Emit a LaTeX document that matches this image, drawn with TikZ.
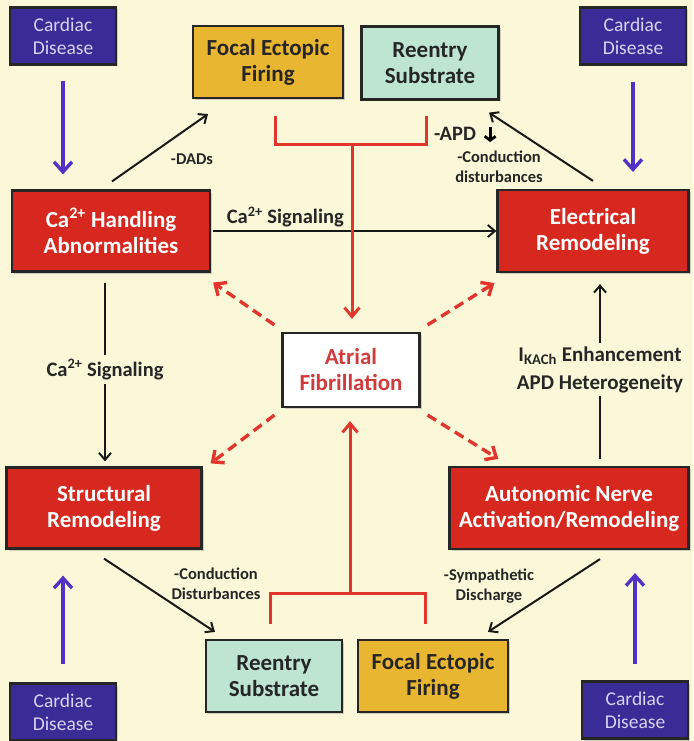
\documentclass[tikz,border=0pt]{standalone}
\usepackage{fontspec}
\setmainfont{Carlito}
\usetikzlibrary{arrows.meta, shadows}

\definecolor{bgcream}{HTML}{FBF8D9}
\definecolor{boxred}{HTML}{D7281F}
\definecolor{diseaseblue}{HTML}{3A2C96}
\definecolor{diseasetext}{HTML}{D9D2F2}
\definecolor{focalgold}{HTML}{E9B631}
\definecolor{reentrymint}{HTML}{BDE5D1}
\definecolor{afred}{HTML}{D13B3B}
\definecolor{linered}{HTML}{E2362C}
\definecolor{bluearrow}{HTML}{5232C4}

\newcommand{\boxfont}{\fontsize{23}{26}\selectfont\bfseries}
\newcommand{\labelfont}{\fontsize{16.5}{20}\selectfont\bfseries}
\newcommand{\signalfont}{\fontsize{20.5}{24}\selectfont\bfseries}

\begin{document}
\begin{tikzpicture}[x=1pt, y=-1pt,
    basebox/.style={draw=black!85, line width=2.2pt, align=center, inner sep=0pt,
      drop shadow={shadow xshift=2pt, shadow yshift=-2pt, opacity=0.35}},
    remodelbox/.style={basebox, fill=boxred, text=white, font=\boxfont},
    diseasebox/.style={basebox, fill=diseaseblue, text=diseasetext,
      font=\fontsize{19.5}{23}\selectfont, minimum width=106pt, minimum height=57pt},
    focalbox/.style={basebox, fill=focalgold, text=black!85, font=\boxfont,
      minimum width=150pt, minimum height=72pt},
    reentrybox/.style={basebox, fill=reentrymint, text=black!85, font=\boxfont,
      minimum width=137pt, minimum height=73pt},
    afbox/.style={basebox, fill=white, text=afred, font=\boxfont,
      minimum width=137pt, minimum height=74pt},
    steplabel/.style={align=center, inner sep=1pt, font=\labelfont, text=black!85},
    blkarrow/.style={black!90, line width=2pt, -{Straight Barb[length=7pt, width=12pt, line width=2pt]}},
    bluearrowline/.style={bluearrow, line width=3.4pt, -{Straight Barb[length=10pt, width=18pt, line width=3.4pt]}},
    redline/.style={linered, line width=3pt},
    redarrow/.style={redline, -{Straight Barb[length=9pt, width=15pt, line width=3pt]}},
    reddashed/.style={linered, line width=3.4pt, dash pattern=on 10pt off 6pt,
      -{Straight Barb[length=9pt, width=16pt, line width=3.4pt]}}]

    \useasboundingbox[fill=bgcream] (0,0) rectangle (693,741);

    % disease boxes in the corners
    \node[diseasebox] (cdtl) at (63,36) {Cardiac\\Disease};
    \node[diseasebox] (cdtr) at (633,36) {Cardiac\\Disease};
    \node[diseasebox] (cdbl) at (63,712) {Cardiac\\Disease};
    \node[diseasebox] (cdbr) at (635,710) {Cardiac\\Disease};

    % mechanisms
    \node[focalbox] (focaltop) at (268,62) {Focal Ectopic\\Firing};
    \node[reentrybox] (reentrytop) at (430,63) {Reentry\\Substrate};
    \node[reentrybox, minimum width=136pt, minimum height=72pt] (reentrybot) at (274,676) {Reentry\\Substrate};
    \node[focalbox] (focalbot) at (433,676) {Focal Ectopic\\Firing};

    % remodeling boxes
    \node[remodelbox, minimum width=198pt, minimum height=81pt] (cahandling) at (111,231)
        {Ca\textsuperscript{2+} Handling\\Abnormalities};
    \node[remodelbox, minimum width=191pt, minimum height=82pt] (electrical) at (593,231)
        {Electrical\\Remodeling};
    \node[remodelbox, minimum width=195pt, minimum height=81pt] (structural) at (104,508)
        {Structural\\Remodeling};
    \node[remodelbox, minimum width=239pt, minimum height=82pt] (autonomic) at (569,508)
        {Autonomic Nerve\\Activation/Remodeling};

    % atrial fibrillation
    \node[afbox] (af) at (351,370) {Atrial\\Fibrillation};

    % blue arrows from disease
    \draw[bluearrowline, shorten <=15pt, shorten >=15pt] (cdtl.south) -- (cdtl.south |- cahandling.north);
    \draw[bluearrowline, shorten <=16pt, shorten >=17pt] (cdtr.south) -- (cdtr.south |- electrical.north);
    \draw[bluearrowline, shorten <=18pt, shorten >=26pt] (cdbl.north) -- (cdbl.north |- structural.south);
    \draw[bluearrowline, shorten <=16pt, shorten >=23pt] (cdbr.north) -- (cdbr.north |- autonomic.south);

    % black arrows
    \draw[blkarrow] ([shift={(1,-8)}]cahandling.north) -- ([shift={(-60,15)}]focaltop.south);
    \node[steplabel] (dads) at (192,159) {-DADs};
    \draw[blkarrow] ([shift={(0,-8)}]electrical.north) -- ([shift={(59,12)}]reentrytop.south);
    \node[steplabel, font=\signalfont] (apd) at (455,134) {-APD};
    \draw[line width=3.2pt, -{Straight Barb[length=4pt, width=11pt, line width=2.8pt]}]
        ([shift={(13,-7)}]apd.east) -- ([shift={(13,8)}]apd.east);
    \node[steplabel] (conductop) at (499,167) {-Conduction\\disturbances};

    \draw[blkarrow, shorten <=2pt] (cahandling.east) -- node[steplabel, above=2pt, pos=0.26,
        font=\signalfont] (casigtop) {Ca\textsuperscript{2+} Signaling} (electrical.west);
    \draw[blkarrow, shorten <=10pt, shorten >=5pt] ([xshift=-6pt]cahandling.south) --
        node[steplabel, fill=bgcream, inner sep=4pt, font=\signalfont]
        (casigleft) {Ca\textsuperscript{2+} Signaling} ([xshift=1pt]structural.north);
    \draw[blkarrow, shorten <=7pt, shorten >=11pt] ([xshift=31pt]autonomic.north) --
        node[steplabel, fill=bgcream, inner sep=3pt, font=\fontsize{21}{28}\selectfont\bfseries]
        (ikach) {I\textsubscript{KACh} Enhancement\\APD Heterogeneity} ([xshift=7pt]electrical.south);

    \draw[blkarrow] ([shift={(0,9)}]structural.south) -- ([shift={(-59,-7)}]reentrybot.north);
    \node[steplabel] (conducbot) at (216,584) {-Conduction\\Disturbances};
    \draw[blkarrow] ([shift={(31,9)}]autonomic.south) -- ([shift={(55,-7)}]focalbot.north);
    \node[steplabel] (sympath) at (489,586) {-Sympathetic\\Discharge};

    % red brackets into atrial fibrillation
    \coordinate (topjoin) at (352,144);
    \coordinate (botjoin) at (350,593);
    \draw[redline] ([shift={(7,17)}]focaltop.south) |- (topjoin) -| ([shift={(-4,15)}]reentrytop.south);
    \draw[redarrow, shorten >=13pt] (topjoin) -- (topjoin |- af.north);
    \draw[redline] ([shift={(-4,-15)}]reentrybot.north) |- (botjoin) -| ([shift={(-8,-15)}]focalbot.north);
    \draw[redarrow, shorten >=13pt] (botjoin) -- (botjoin |- af.south);

    % dashed red arrows out of atrial fibrillation
    \draw[reddashed] ([shift={(-7,-7)}]af.north west) -- ([shift={(2,10)}]cahandling.south east);
    \draw[reddashed] ([shift={(7,-7)}]af.north east) -- ([shift={(-2,10)}]electrical.south west);
    \draw[reddashed] ([shift={(-7,7)}]af.south west) -- ([shift={(8,-3)}]structural.north east);
    \draw[reddashed] ([shift={(7,7)}]af.south east) -- ([shift={(50,-7)}]autonomic.north west);
\end{tikzpicture}
\end{document}
